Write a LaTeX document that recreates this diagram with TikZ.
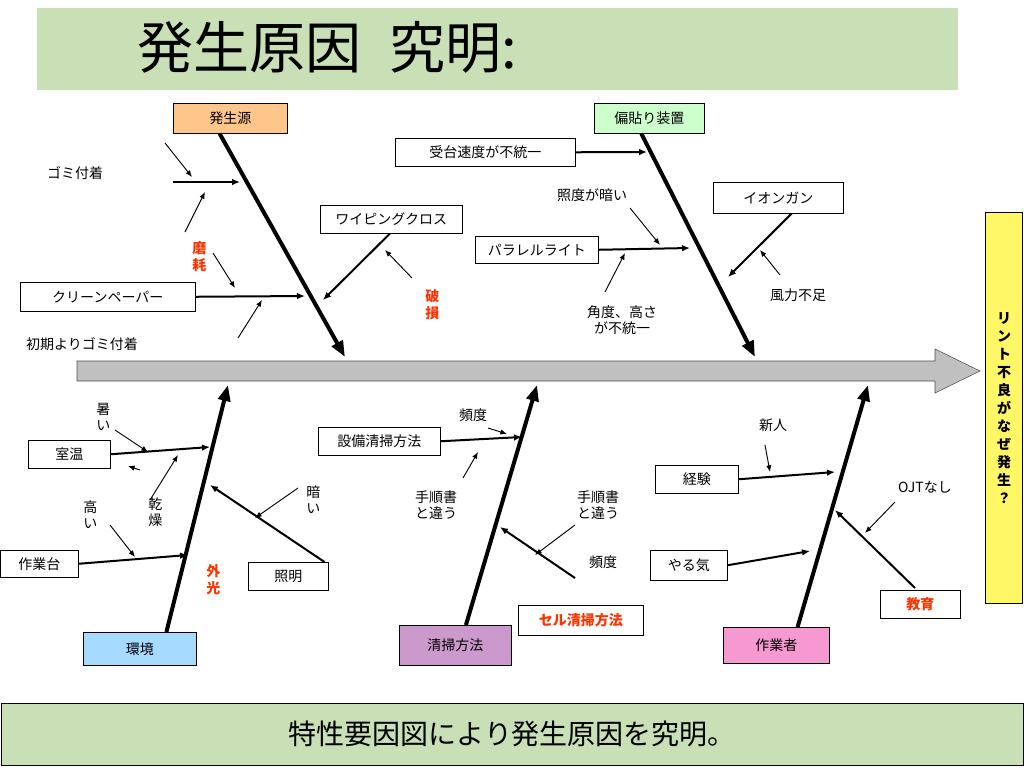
\documentclass[tikz,border=0pt]{standalone}
\usepackage{fontspec}
\setmainfont{Noto Sans CJK JP}
\usetikzlibrary{arrows.meta}
\definecolor{bannergreen}{HTML}{C9E0B6}
\definecolor{spinegray}{HTML}{C0C0C0}
\definecolor{redtxt}{HTML}{FF3300}
\begin{document}
\begin{tikzpicture}[x=0.75pt,y=-0.75pt,
  lbl/.style={draw=black,fill=white,font=\fontsize{10.5}{12}\selectfont,inner sep=0pt,anchor=north west},
  txt/.style={font=\fontsize{10.5}{12}\selectfont,align=center,inner sep=0pt},
  red/.style={txt,text=redtxt,font=\fontsize{10.5}{12.5}\selectfont\bfseries},
  bone/.style={line width=3pt,-{Triangle[length=12pt,width=9pt]}},
  twig/.style={line width=1.5pt,-{Latex[length=6pt,width=5pt]}},
  tiny/.style={line width=0.7pt,-{Latex[length=5pt,width=4pt]}}]
\useasboundingbox (0,0) rectangle (1024,768);
% banners
\node[fill=bannergreen,minimum width=921*0.75pt,minimum height=82*0.75pt,anchor=north west,inner sep=0] (title) at (37,8) {};
\node[anchor=west,font=\fontsize{42}{46}\selectfont] (titletext) at (133,47) {発生原因\hspace{0.5em}究明:};
\node[draw=black,fill=bannergreen,minimum width=1022*0.75pt,minimum height=62*0.75pt,anchor=north west,inner sep=0,font=\fontsize{21}{24}\selectfont] (foot) at (1,703) {特性要因図により発生原因を究明。};
% spine
\draw[draw=black!70,fill=spinegray] (77,361) -- (935,361) -- (935,349) -- (980,371) -- (935,393) -- (935,381) -- (77,381) -- cycle;
\node[draw=black,line width=1pt,fill=yellow!60,anchor=north west,minimum width=37*0.75pt,minimum height=391*0.75pt,inner sep=0,font=\fontsize{10.5}{13.5}\selectfont\bfseries,align=center] (effect) at (985,212) {リ\\ン\\ト\\不\\良\\が\\な\\ぜ\\発\\生\\？};
% category boxes
\node[draw=black,fill=orange!45,minimum width=114*0.75pt,minimum height=30*0.75pt,anchor=north west,inner sep=0,font=\fontsize{10.5}{12}\selectfont] (c1) at (173,103) {発生源};
\node[draw=black,fill=green!20,minimum width=110*0.75pt,minimum height=30*0.75pt,anchor=north west,inner sep=0,font=\fontsize{10.5}{12}\selectfont] (c2) at (594,103) {偏貼り装置};
\node[draw=black,fill=blue!40!cyan!35,minimum width=113*0.75pt,minimum height=33*0.75pt,anchor=north west,inner sep=0,font=\fontsize{10.5}{12}\selectfont] (c3) at (83,632) {環境};
\node[draw=black,fill=violet!40,minimum width=112*0.75pt,minimum height=40*0.75pt,anchor=north west,inner sep=0,font=\fontsize{10.5}{12}\selectfont] (c4) at (399,625) {清掃方法};
\node[draw=black,fill=magenta!40,minimum width=106*0.75pt,minimum height=36*0.75pt,anchor=north west,inner sep=0,font=\fontsize{10.5}{12}\selectfont] (c5) at (723,627) {作業者};
% bones
\coordinate (b1) at (345,357); \coordinate (b2) at (755,357);
\coordinate (b3) at (228,385); \coordinate (b4) at (537,385); \coordinate (b5) at (868,385);
\draw[bone] ([xshift=-8pt]c1.south) -- (b1);
\draw[bone] ([xshift=-6pt]c2.south) -- (b2);
\draw[bone] ([xshift=20pt]c3.north) -- (b3);
\draw[bone] ([xshift=8pt]c4.north) -- (b4);
\draw[bone] ([xshift=16pt]c5.north) -- (b5);
% top-left
\node[txt] (t1) at (75,173) {ゴミ付着};
\coordinate (g1s) at (173,182); \coordinate (g1e) at (240,182);
\draw[twig] (g1s) -- (g1e);
\draw[tiny] (165,143) -- (192,177);
\draw[tiny] (185,232) -- (205,192);
\node[red,text width=1em] (t2) at (199,257) {磨\\耗};
\node[lbl,minimum width=175*0.75pt,minimum height=29*0.75pt] (cp) at (20,282) {};
\node[txt] at (cp.center) {クリーンペーパー};
\coordinate (cpe) at (305,296);
\draw[twig] (cp.east) -- (cpe);
\draw[tiny] (213,253) -- (235,288);
\draw[tiny] (238,338) -- (262,300);
\node[txt] (t3) at (82,344) {初期よりゴミ付着};
\node[lbl,minimum width=142*0.75pt,minimum height=28*0.75pt] (wc) at (320,205) {};
\node[txt] at (wc.center) {ワイピングクロス};
\coordinate (wce) at (323,300);
\draw[twig] ([xshift=-1pt]wc.south) -- (wce);
\draw[tiny] (412,278) -- (385,250);
\node[red,text width=1em] (t4) at (432,305) {破\\損};
% top-right
\node[lbl,minimum width=180*0.75pt,minimum height=28*0.75pt] (ud) at (395,138) {};
\node[txt] at (ud.center) {受台速度が不統一};
\coordinate (ude) at (647,152);
\draw[twig] (ud.east) -- (ude);
\node[txt] (t5) at (592,195) {照度が暗い};
\node[lbl,minimum width=130*0.75pt,minimum height=31*0.75pt] (ig) at (713,182) {};
\node[txt] at (ig.center) {イオンガン};
\coordinate (ige) at (728,277);
\draw[twig] ([xshift=10pt]ig.south) -- (ige);
\draw[tiny] (780,275) -- (760,250);
\node[txt] (t6) at (798,295) {風力不足};
\node[lbl,minimum width=123*0.75pt,minimum height=27*0.75pt] (pl) at (475,236) {};
\node[txt] at (pl.center) {パラレルライト};
\coordinate (ple) at (690,248);
\draw[twig] (pl.east) -- (ple);
\draw[tiny] (630,208) -- (660,245);
\draw[tiny] (605,292) -- (625,253);
\node[txt] (t7) at (622,320) {角度、高さ\\が不統一};
% bottom-left
\node[txt,text width=1em] (t8) at (103,417) {暑\\い};
\node[lbl,minimum width=82*0.75pt,minimum height=28*0.75pt] (sh) at (28,440) {};
\node[txt] at (sh.center) {室温};
\coordinate (she) at (210,447);
\draw[twig] (sh.east) -- (she);
\draw[tiny] (115,430) -- (148,452);
\draw[tiny] (140,470) -- (128,466);
\node[txt,text width=1em] (t9) at (155,512) {乾\\燥};
\draw[tiny] (150,500) -- (178,455);
\node[txt,text width=1em] (t10) at (90,515) {高\\い};
\node[lbl,minimum width=78*0.75pt,minimum height=27*0.75pt] (sg) at (0,550) {};
\node[txt] at (sg.center) {作業台};
\coordinate (sge) at (188,555);
\draw[twig] (sg.east) -- (sge);
\draw[tiny] (110,525) -- (135,557);
\node[txt,text width=1em] (t11) at (313,500) {暗\\い};
\node[lbl,minimum width=80*0.75pt,minimum height=28*0.75pt] (sm) at (248,562) {};
\node[txt] at (sm.center) {照明};
\coordinate (sme) at (210,485);
\draw[twig] ([xshift=-3pt]sm.north east) -- (sme);
\draw[tiny] (298,488) -- (255,518);
\node[red,text width=1em] (t12) at (213,580) {外\\光};
% bottom-middle
\node[lbl,minimum width=122*0.75pt,minimum height=28*0.75pt] (ss) at (318,427) {};
\node[txt] at (ss.center) {設備清掃方法};
\coordinate (sse) at (522,437);
\draw[twig] (ss.east) -- (sse);
\node[txt] (t13) at (473,415) {頻度};
\draw[tiny] (488,428) -- (507,434);
\node[txt] (t14) at (436,505) {手順書\\と違う};
\draw[tiny] (463,478) -- (478,452);
\node[txt] (t15) at (598,505) {手順書\\と違う};
\draw[tiny] (575,525) -- (535,555);
\node[txt] (t16) at (603,562) {頻度};
\node[draw=black,fill=white,minimum width=125*0.75pt,minimum height=30*0.75pt,anchor=north west,inner sep=0,text=redtxt,font=\fontsize{10.5}{12}\selectfont\bfseries] (cs) at (518,605) {セル清掃方法};
\coordinate (cse) at (500,527);
\draw[twig] (575,578) -- (cse);
% bottom-right
\node[txt] (t17) at (773,425) {新人};
\draw[tiny] (765,445) -- (770,472);
\node[lbl,minimum width=83*0.75pt,minimum height=28*0.75pt] (kk) at (655,465) {};
\node[txt] at (kk.center) {経験};
\coordinate (kke) at (835,472);
\draw[twig] (kk.east) -- (kke);
\node[txt] (t18) at (925,487) {OJTなし};
\draw[tiny] (895,502) -- (865,533);
\node[lbl,minimum width=77*0.75pt,minimum height=30*0.75pt] (yr) at (650,550) {};
\node[txt] at (yr.center) {やる気};
\coordinate (yre) at (810,551);
\draw[twig] (yr.east) -- (yre);
\node[draw=black,fill=white,minimum width=80*0.75pt,minimum height=28*0.75pt,anchor=north west,inner sep=0,text=redtxt,font=\fontsize{10.5}{12}\selectfont\bfseries] (ky) at (880,590) {教育};
\coordinate (kye) at (835,510);
\draw[twig] (915,588) -- (kye);
\end{tikzpicture}
\end{document}
